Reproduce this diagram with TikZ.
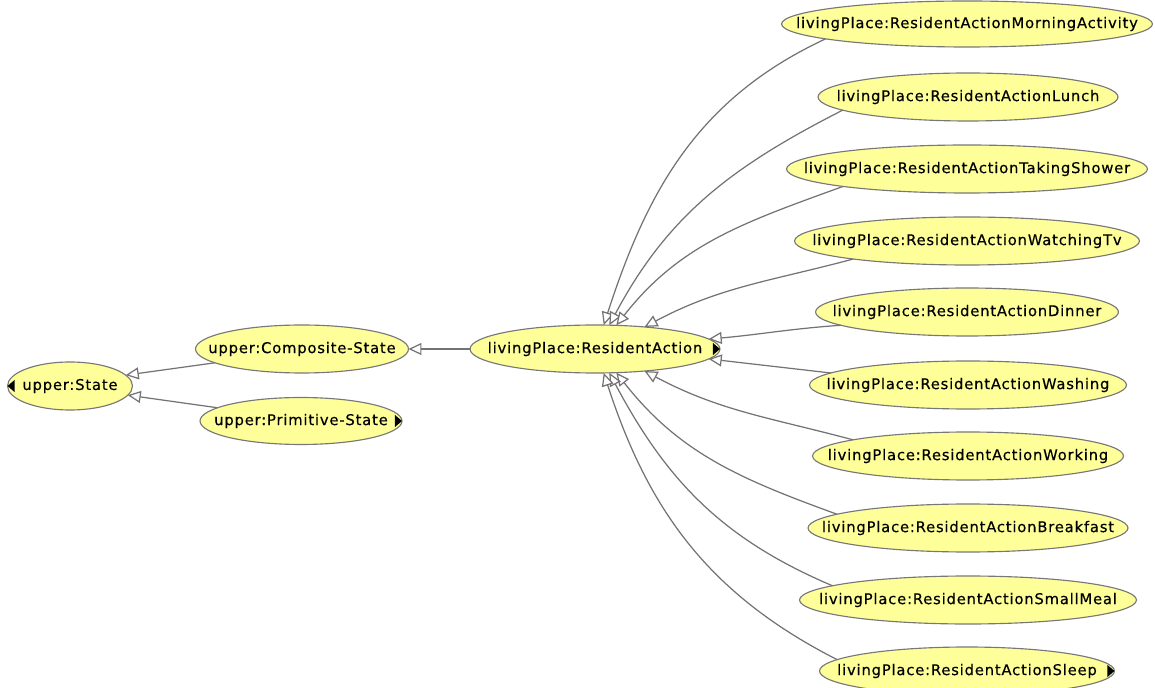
\documentclass[tikz,border=0pt]{standalone}
\usepackage{fontspec}
\setmainfont{DejaVu Sans}[LetterSpace=5.5, FakeBold=0.35]
\usetikzlibrary{shapes.geometric,arrows.meta}

\definecolor{nodefill}{RGB}{255,255,153}
\definecolor{nodeborder}{RGB}{120,120,120}
\definecolor{edgecol}{RGB}{115,115,115}
\newcommand{\lbl}{\fontsize{8.4pt}{10pt}\selectfont}

\tikzset{
  cls/.style={ellipse, draw=nodeborder, fill=nodefill, line width=0.65pt,
              inner sep=0pt, outer sep=0pt, font=\lbl, minimum height=0.96cm},
  isa/.style={draw=edgecol, line width=0.7pt,
              -{Triangle[open, length=7.4pt, width=6.8pt, fill=white]}},
  more/.style={fill=black}
}

\begin{document}
\begin{tikzpicture}[x=0.02cm, y=-0.02cm]
\useasboundingbox (0,0) rectangle (1155,688);

% class nodes (text boxes have zero width so the ellipse size is set explicitly)
\node[cls, minimum width=2.50cm] (st)   at (70,386)  {\makebox[0pt]{upper:State}};
\node[cls, minimum width=4.26cm] (comp) at (302,349) {\makebox[0pt]{upper:Composite-State}};
\node[cls, minimum width=4.04cm, minimum height=0.94cm] (prim) at (301,421) {\makebox[0pt]{upper:Primitive-State}};
\node[cls, minimum width=5.00cm] (ra)   at (595,349) {\makebox[0pt]{livingPlace:ResidentAction}};

\node[cls, minimum width=7.42cm, minimum height=0.92cm] (mor) at (967,24)  {\makebox[0pt]{livingPlace:ResidentActionMorningActivity}};
\node[cls, minimum width=6.00cm] (lun) at (968,97)  {\makebox[0pt]{livingPlace:ResidentActionLunch}};
\node[cls, minimum width=7.22cm] (sho) at (967,169) {\makebox[0pt]{livingPlace:ResidentActionTakingShower}};
\node[cls, minimum width=6.90cm] (tv)  at (967,241) {\makebox[0pt]{livingPlace:ResidentActionWatchingTv}};
\node[cls, minimum width=6.06cm] (din) at (967,312) {\makebox[0pt]{livingPlace:ResidentActionDinner}};
\node[cls, minimum width=6.34cm] (was) at (968,385) {\makebox[0pt]{livingPlace:ResidentActionWashing}};
\node[cls, minimum width=6.22cm] (wor) at (968,456) {\makebox[0pt]{livingPlace:ResidentActionWorking}};
\node[cls, minimum width=6.40cm] (bre) at (968,528) {\makebox[0pt]{livingPlace:ResidentActionBreakfast}};
\node[cls, minimum width=6.74cm] (sma) at (968,600) {\makebox[0pt]{livingPlace:ResidentActionSmallMeal}};
\node[cls, minimum width=5.90cm] (sle) at (967,671) {\makebox[0pt]{livingPlace:ResidentActionSleep}};

% expand/collapse markers
\fill[more] (st.west)   -- ++(7,-6)  -- ++(0,12) -- cycle;
\fill[more] (prim.east) -- ++(-7,-6) -- ++(0,12) -- cycle;
\fill[more] (ra.east)   -- ++(-7,-6) -- ++(0,12) -- cycle;
\fill[more] (sle.east)  -- ++(-7,-6) -- ++(0,12) -- cycle;

% subclass links
\draw[isa] (comp.189) -- (st.11);
\draw[isa] (prim.171) -- (st.-9);
\draw[isa] (ra.west) -- (comp.east);

\draw[isa] (mor.186) to[out=205, in=72]  (ra.70);
\draw[isa] (lun.186) to[out=207, in=62]  (ra.59);
\draw[isa] (sho.188) to[out=200, in=52]  (ra.48);
\draw[isa] (tv.189)  to[out=195, in=28]  (ra.24);
\draw[isa] (din.186) to[out=184, in=5]   (ra.5);
\draw[isa] (was.175) -- (ra.-5);
\draw[isa] (wor.172) to[out=165, in=-28] (ra.-24);
\draw[isa] (bre.174) to[out=160, in=-52] (ra.-48);
\draw[isa] (sma.174) to[out=157, in=-62] (ra.-59);
\draw[isa] (sle.175) to[out=153, in=-72] (ra.-70);
\end{tikzpicture}
\end{document}
